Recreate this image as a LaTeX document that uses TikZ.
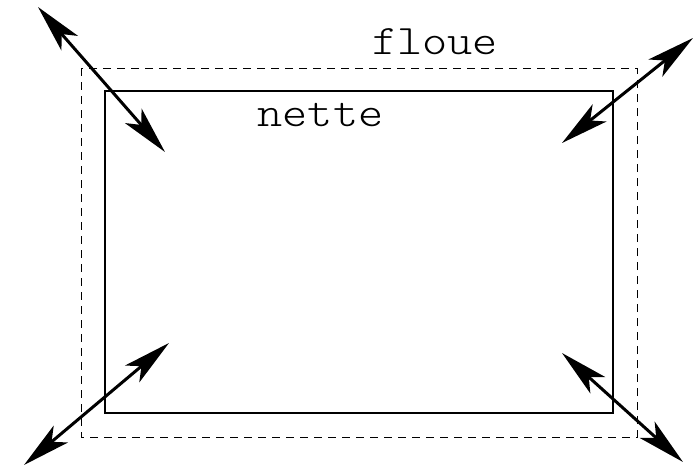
\documentclass[tikz,border=0pt]{standalone}
\usetikzlibrary{arrows.meta}
\tikzset{
	fleche/.style={line width=3pt, {Stealth[length=48pt, width=22pt, inset=12pt]}-{Stealth[length=48pt, width=22pt, inset=12pt]}},
	mot/.style={font=\ttfamily\fontseries{l}\fontsize{42}{42}\selectfont, inner sep=0pt, anchor=base},
}
\begin{document}
\begin{tikzpicture}[x=1pt, y=-1pt]
	\useasboundingbox (0,0) rectangle (697,469); % Rand um Grafik
	
	\draw[line width=1pt, dash pattern=on 8pt off 6pt] (81,68) rectangle (637,437);
	\draw[line width=1.2pt] (105,91) rectangle (613,413);
	
	\node[mot] (floue) at (435,54) {\scalebox{1.14}[1]{floue}};
	\node[mot] (nette) at (320.5,126) {\scalebox{1.14}[1]{nette}};
	
	\coordinate (hg1) at (38,7);   \coordinate (hg2) at (165,152);
	\coordinate (hd1) at (693,38); \coordinate (hd2) at (562,143);
	\coordinate (bg1) at (24,465); \coordinate (bg2) at (169,343);
	\coordinate (bd1) at (562,353); \coordinate (bd2) at (683,462);
	
	\draw[fleche] (hg1) -- (hg2);
	\draw[fleche] (hd1) -- (hd2);
	\draw[fleche] (bg1) -- (bg2);
	\draw[fleche] (bd1) -- (bd2);
\end{tikzpicture}
\end{document}
